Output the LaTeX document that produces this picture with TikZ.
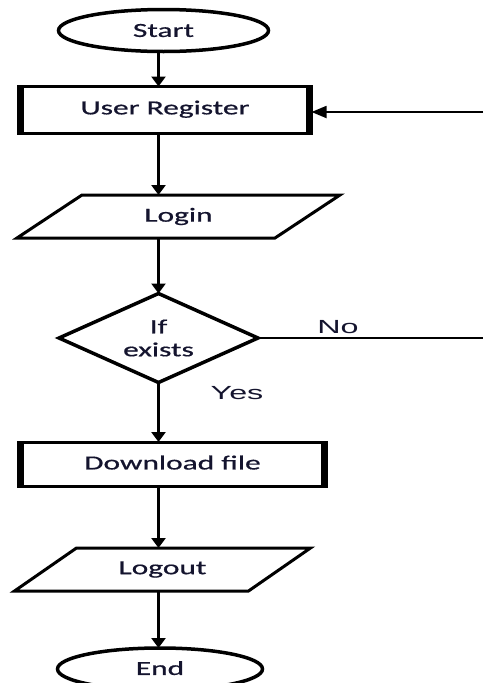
\documentclass[tikz,border=0pt]{standalone}
\usepackage{fontspec}
\usepackage{graphicx}
\setmainfont[FakeBold=0.6]{Carlito}
\newfontfamily\labelfont{Liberation Sans}
\usetikzlibrary{shapes.geometric,arrows.meta}
\definecolor{ink}{HTML}{14142E}

% wide-set text used inside the flowchart boxes
\newcommand{\boxtext}[1]{\scalebox{1.57}[1]{#1}}
\newcommand{\edgetext}[1]{\scalebox{1.7}[1]{\labelfont #1}}

\tikzset{
  terminal/.style={ellipse, draw, line width=3.5pt, outer sep=0pt, inner sep=0pt,
    text=ink, font=\fontsize{20}{24}\selectfont},
  process/.style={rectangle, draw, line width=3pt, outer sep=0pt, inner sep=0pt,
    text=ink, font=\fontsize{20}{24}\selectfont},
  iobox/.style={rectangle, outer sep=0pt, inner sep=0pt,
    text=ink, font=\fontsize{20}{24}\selectfont},
  decision/.style={diamond, draw, line width=3.5pt, outer sep=0pt, inner sep=0pt,
    align=center, text=ink, font=\fontsize{20}{24}\selectfont},
  flow/.style={line width=3pt, -{Triangle[width=14pt,length=10pt]}},
  back/.style={line width=1.8pt, -{Triangle[width=12pt,length=15pt]}},
  plain/.style={line width=1.8pt},
  sidebar/.style={line width=7pt},
  edgelabel/.style={text=ink, font=\fontsize{19}{22}\selectfont, inner sep=0pt}
}

\begin{document}
\begin{tikzpicture}[x=1pt, y=-1pt]
  \useasboundingbox (0,0) rectangle (483,683);

  % main vertical spine of the chart
  \coordinate (spine) at (158.5,0);

  % shapes
  \node[terminal, minimum width=210pt, minimum height=42pt] (start) at (163.5,30.5)
    {\raisebox{-2pt}{\boxtext{Start}}};

  \node[process, minimum width=293pt, minimum height=47pt] (reg) at (165,110)
    {\raisebox{5pt}{\boxtext{User Register}}};
  \draw[sidebar] ([xshift=2pt]reg.north west) -- ([xshift=2pt]reg.south west);
  \draw[sidebar] ([xshift=-2pt]reg.north east) -- ([xshift=-2pt]reg.south east);

  \node[iobox, minimum width=258pt, minimum height=43pt] (login) at (178.5,216.5)
    {\raisebox{-1pt}{\boxtext{Login}}};
  \draw[line width=3pt, line join=miter]
    ([xshift=32.5pt]login.north west) -- ([xshift=32.5pt]login.north east)
    -- ([xshift=-32.5pt]login.south east) -- ([xshift=-32.5pt]login.south west) -- cycle;

  \node[decision, minimum width=199pt, minimum height=89pt, shape aspect=2.24] (dec)
    at (158.5,338) {\boxtext{If}\\[-1pt]\boxtext{exists}};

  \node[process, minimum width=308pt, minimum height=44pt] (dl) at (172.5,464)
    {\raisebox{3pt}{\boxtext{Download file}}};
  \draw[sidebar] ([xshift=2pt]dl.north west) -- ([xshift=2pt]dl.south west);
  \draw[sidebar] ([xshift=-2pt]dl.north east) -- ([xshift=-2pt]dl.south east);

  \node[iobox, minimum width=234pt, minimum height=43pt] (logout) at (162.5,569.5)
    {\boxtext{Logout}};
  \draw[line width=3pt, line join=miter]
    ([xshift=31pt]logout.north west) -- ([xshift=31pt]logout.north east)
    -- ([xshift=-31pt]logout.south east) -- ([xshift=-31pt]logout.south west) -- cycle;

  \node[terminal, minimum width=205pt, minimum height=42pt] (end) at (160,669)
    {\raisebox{2pt}{\boxtext{End}}};

  % connectors down the spine
  \draw[flow] (spine |- start.south) -- (spine |- reg.north);
  \draw[flow] (spine |- reg.south) -- (spine |- login.north);
  \draw[flow] (spine |- login.south) -- (dec.north);
  \draw[flow] (dec.south) -- (spine |- dl.north);
  \draw[flow] (spine |- dl.south) -- (spine |- logout.north);
  \draw[flow] (spine |- logout.south) -- (spine |- end.north);

  % "No" branch leaving to the right and the return into User Register
  \coordinate (noend) at (483,338);
  \coordinate (backin) at (483,112);
  \draw[plain] (dec.east) -- (noend);
  \draw[back] (backin) -- (backin -| reg.east);

  \node[edgelabel] (nolabel) at (338,327) {\edgetext{No}};
  \node[edgelabel] (yeslabel) at (237,393) {\edgetext{Yes}};
\end{tikzpicture}
\end{document}
